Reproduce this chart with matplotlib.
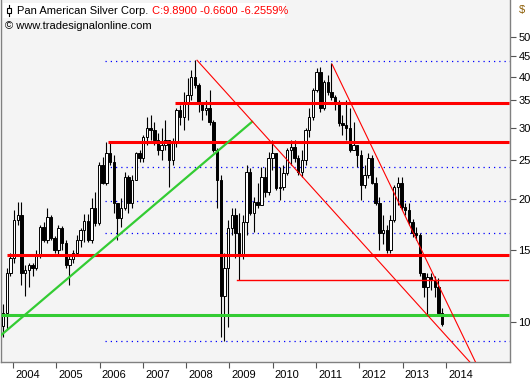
import numpy as np
import matplotlib
matplotlib.use("Agg")
import matplotlib.pyplot as plt
from matplotlib.patches import Rectangle
from matplotlib.ticker import NullLocator

# Pan American Silver, monthly candles (Oct 2003 .. late 2013)
opens = [9.8, 10.5, 13.2, 14.4, 17.8, 18.3, 13.2, 13.4, 13.8, 13.6,
         14.6, 17.1, 15.9, 18.1, 16.1, 15.0, 17.0, 15.6, 13.8, 14.3,
         14.8, 15.9, 16.8, 17.7, 15.9, 19.0, 17.5, 24.3, 22.0, 26.0,
         24.7, 19.6, 18.0, 19.0, 22.7, 19.6, 22.3, 26.0, 25.3, 28.4,
         29.9, 29.6, 28.0, 26.4, 27.2, 28.0, 25.0, 27.7, 33.1, 31.8,
         34.6, 36.0, 39.9, 38.1, 34.4, 33.1, 33.5, 30.9, 26.4, 22.3,
         11.6, 13.6, 17.0, 18.3, 16.5, 14.5, 17.6, 23.3, 18.5, 19.7,
         19.4, 22.7, 20.9, 25.3, 26.0, 21.3, 21.4, 23.2, 26.4, 26.9,
         25.3, 23.3, 25.0, 29.6, 31.8, 37.1, 41.0, 33.5, 38.8, 36.7,
         35.6, 34.4, 30.8, 30.4, 29.9, 26.4, 27.2, 25.7, 21.7, 23.0,
         25.3, 22.0, 19.6, 16.5, 16.8, 15.0, 17.8, 21.4, 22.0, 19.2,
         18.8, 17.6, 16.5, 16.4, 13.2, 12.2, 12.9, 12.7, 12.2, 10.55]
highs = [11.1, 13.6, 14.8, 18.8, 19.7, 19.7, 13.8, 14.0, 14.0, 15.0,
         17.3, 17.6, 19.0, 18.3, 16.3, 17.3, 17.2, 15.9, 14.6, 15.0,
         16.4, 17.0, 18.4, 18.4, 20.2, 20.9, 24.7, 25.4, 27.6, 27.6,
         25.7, 19.6, 20.2, 23.3, 23.0, 23.0, 26.1, 26.4, 28.8, 31.8,
         32.2, 31.0, 29.1, 29.9, 31.3, 28.0, 28.3, 33.5, 34.1, 36.7,
         39.6, 41.5, 43.9, 38.6, 34.6, 35.0, 37.1, 31.3, 26.8, 23.0,
         14.8, 17.8, 19.0, 19.1, 18.5, 18.3, 24.3, 23.9, 20.3, 21.9,
         24.0, 24.0, 26.1, 28.0, 26.0, 24.0, 24.3, 26.7, 28.0, 28.0,
         25.7, 26.4, 29.9, 33.5, 37.6, 42.0, 42.2, 39.2, 40.3, 43.2,
         36.0, 35.0, 32.2, 35.0, 33.5, 31.0, 27.2, 26.4, 24.3, 26.0,
         25.7, 22.7, 20.3, 18.3, 17.3, 18.3, 21.7, 22.7, 22.7, 19.6,
         19.6, 17.9, 17.1, 16.5, 13.2, 13.2, 13.2, 13.0, 12.8, 10.8]
lows = [9.2, 9.6, 13.0, 14.0, 17.3, 12.3, 11.6, 12.2, 13.0, 13.4,
        14.4, 15.7, 15.6, 15.9, 14.8, 14.6, 15.0, 13.6, 12.3, 14.0,
        14.6, 15.3, 15.7, 15.7, 15.6, 17.2, 17.3, 21.8, 21.7, 24.3,
        18.5, 15.9, 17.1, 18.8, 18.5, 19.0, 22.3, 24.7, 24.7, 27.2,
        28.0, 27.2, 25.7, 25.0, 26.4, 21.5, 24.3, 26.9, 30.4, 29.6,
        31.3, 35.0, 37.5, 32.7, 31.3, 32.2, 30.4, 26.1, 19.1, 9.2,
        9.0, 9.7, 16.4, 14.4, 12.7, 14.3, 16.4, 18.3, 16.6, 19.0,
        19.4, 20.3, 20.5, 23.6, 21.1, 19.9, 21.1, 23.0, 24.3, 24.7,
        23.0, 22.7, 24.3, 28.4, 31.3, 36.7, 32.7, 33.1, 36.0, 35.0,
        33.1, 30.3, 28.8, 28.0, 26.1, 26.4, 24.0, 19.9, 21.3, 22.6,
        21.8, 19.4, 15.0, 15.5, 14.8, 14.8, 17.6, 19.4, 18.8, 18.3,
        17.3, 16.2, 15.9, 13.0, 11.5, 10.4, 12.0, 11.5, 10.5, 9.8]
closes = [10.5, 13.2, 14.4, 17.8, 18.3, 13.2, 13.4, 13.8, 13.6, 14.6,
          17.1, 15.9, 18.1, 16.1, 15.0, 17.0, 15.6, 13.8, 14.3, 14.8,
          15.9, 16.8, 17.7, 15.9, 19.0, 17.5, 24.3, 22.0, 26.0, 24.7,
          19.6, 18.0, 19.0, 22.7, 19.6, 22.3, 26.0, 25.3, 28.4, 29.9,
          29.6, 28.0, 26.4, 27.2, 28.0, 25.0, 27.7, 33.1, 31.8, 34.6,
          36.0, 39.9, 38.1, 34.4, 33.1, 33.5, 30.9, 26.4, 22.3, 11.6,
          13.6, 17.0, 18.3, 16.5, 14.5, 17.6, 23.3, 18.5, 19.7, 19.4,
          22.7, 20.9, 25.3, 26.0, 21.3, 21.4, 23.2, 26.4, 26.9, 25.3,
          23.3, 25.0, 29.6, 31.8, 37.1, 41.0, 33.5, 38.8, 36.7, 35.6,
          34.4, 30.8, 30.4, 29.9, 26.4, 27.2, 25.7, 21.7, 23.0, 25.3,
          22.0, 19.6, 16.5, 16.8, 15.0, 17.8, 21.4, 22.0, 19.2, 18.8,
          17.6, 16.5, 16.4, 13.2, 12.2, 12.9, 12.7, 12.2, 10.55, 9.89]

first_bar = 2003.77
last_bar = 2013.91

years = list(range(2004, 2015))
price_ticks = [10, 15, 20, 25, 30, 35, 40, 45, 50]

# horizontal support / resistance levels: (price, start year)
red_thick = [(34.5, 2007.74), (27.7, 2006.19), (14.6, 2003.86)]
red_thin = [(12.7, 2009.17)]
green_level = [(10.4, 2003.72)]
dotted_levels = [43.8, 24.0, 19.8, 16.5, 9.0]
dotted_start = 2006.12

# trend lines: (year, price) pairs
green_trend = [(2003.70, 9.24), (2009.52, 31.0)]
red_trend1 = [(2008.25, 43.9), (2014.55, 7.98)]
red_trend2 = [(2011.37, 42.9), (2014.68, 7.98)]

W, H = 532, 380
FONT = "Liberation Sans"
fig = plt.figure(figsize=(W / 100, H / 100), dpi=100)
fig.patch.set_facecolor("white")
ax = fig.add_axes([1 / W, 18 / H, 509 / W, 362 / H])
ax.set_facecolor("#f4f4f4")

x0, x1 = 2003.723, 2015.478
ax.set_xlim(x0, x1)
ax.set_yscale("log")
ax.set_ylim(7.98, 61.7)

# candles
xs = np.linspace(first_bar, last_bar, len(closes))
o = np.array(opens)
c = np.array(closes)
ax.vlines(xs, lows, highs, color="black", lw=0.8, zorder=3)
up = c >= o
bottoms = np.minimum(o, c)
heights = np.maximum(np.abs(c - o), 0.08)
ax.bar(xs[up], heights[up], bottom=bottoms[up], width=0.055,
       color="white", edgecolor="black", lw=0.7, zorder=4)
ax.bar(xs[~up], heights[~up], bottom=bottoms[~up], width=0.055,
       color="black", edgecolor="black", lw=0.7, zorder=4)

# dotted levels
for lv in dotted_levels:
    ax.plot([dotted_start, x1], [lv, lv], color="#0000ff", lw=0.9,
            ls=(0, (1, 3.2)), zorder=2)

# horizontal lines
for p, s in red_thick:
    ax.plot([s, x1 - 0.02], [p, p], color="red", lw=2.2, zorder=5,
            solid_capstyle="butt")
for p, s in red_thin:
    ax.plot([s, x1 - 0.05], [p, p], color="red", lw=1.0, zorder=5)
for p, s in green_level:
    ax.plot([s, x1 - 0.02], [p, p], color="#33cc33", lw=2.2, zorder=5,
            solid_capstyle="butt")

# trend lines
ax.plot(*zip(*green_trend), color="#33cc33", lw=1.6, zorder=5)
ax.plot(*zip(*red_trend1), color="red", lw=0.8, zorder=5)
ax.plot(*zip(*red_trend2), color="red", lw=0.8, zorder=5)

# axes styling
for side in ["left", "right", "bottom"]:
    ax.spines[side].set_color("#808080")
    ax.spines[side].set_linewidth(1.0)
ax.spines["top"].set_visible(False)

ax.yaxis.tick_right()
ax.yaxis.set_minor_locator(NullLocator())
ax.set_yticks(price_ticks)
ax.set_yticklabels([str(t) for t in price_ticks])
ax.tick_params(axis="y", direction="out", length=4, width=0.8,
               color="#555555", labelsize=8, pad=2, labelcolor="black")
for lab in ax.get_yticklabels():
    lab.set_family(FONT)

ax.set_xticks(years)
ax.set_xticklabels([""] * len(years))
ax.tick_params(axis="x", direction="out", length=4, width=0.8,
               color="#555555", pad=1)
for yr in years:
    ax.annotate(str(yr), xy=(yr, 0), xycoords=("data", "axes fraction"),
                xytext=(1.5, -9.6), textcoords="offset points",
                ha="left", va="center", fontsize=8,
                family=FONT, annotation_clip=False)


def fx(px):
    return px / W


def fy(py):
    return 1 - py / H


fig.text(fx(519), fy(10), "$", fontsize=8, color="#8a5a00",
         ha="left", va="center", family=FONT)

# header box
fig.add_artist(Rectangle((fx(3), fy(18)), fx(282), 15 / H,
                         transform=fig.transFigure, facecolor="white",
                         edgecolor="none", zorder=10))
fig.add_artist(plt.Line2D([fx(8.7), fx(8.7)], [fy(5), fy(16)],
                          transform=fig.transFigure, color="black",
                          lw=0.8, zorder=11))
fig.add_artist(Rectangle((fx(6.7), fy(13)), 4 / W, 5 / H,
                         transform=fig.transFigure, facecolor="white",
                         edgecolor="black", lw=0.8, zorder=12))
name = fig.text(fx(17), fy(11), "Pan American Silver Corp.", fontsize=8,
                color="black", ha="left", va="center", family=FONT,
                zorder=13)
fig.canvas.draw()
name_end = name.get_window_extent().x1
fig.text(fx(name_end + 4), fy(11), "C:9.8900 -0.6600 -6.2559%", fontsize=8,
         color="#ff0000", ha="left", va="center", family=FONT, zorder=13)
fig.text(fx(5), fy(26), "\u00a9 www.tradesignalonline.com", fontsize=8,
         color="black", ha="left", va="center", family=FONT, zorder=13)

fig.savefig("out.png", dpi=100)
